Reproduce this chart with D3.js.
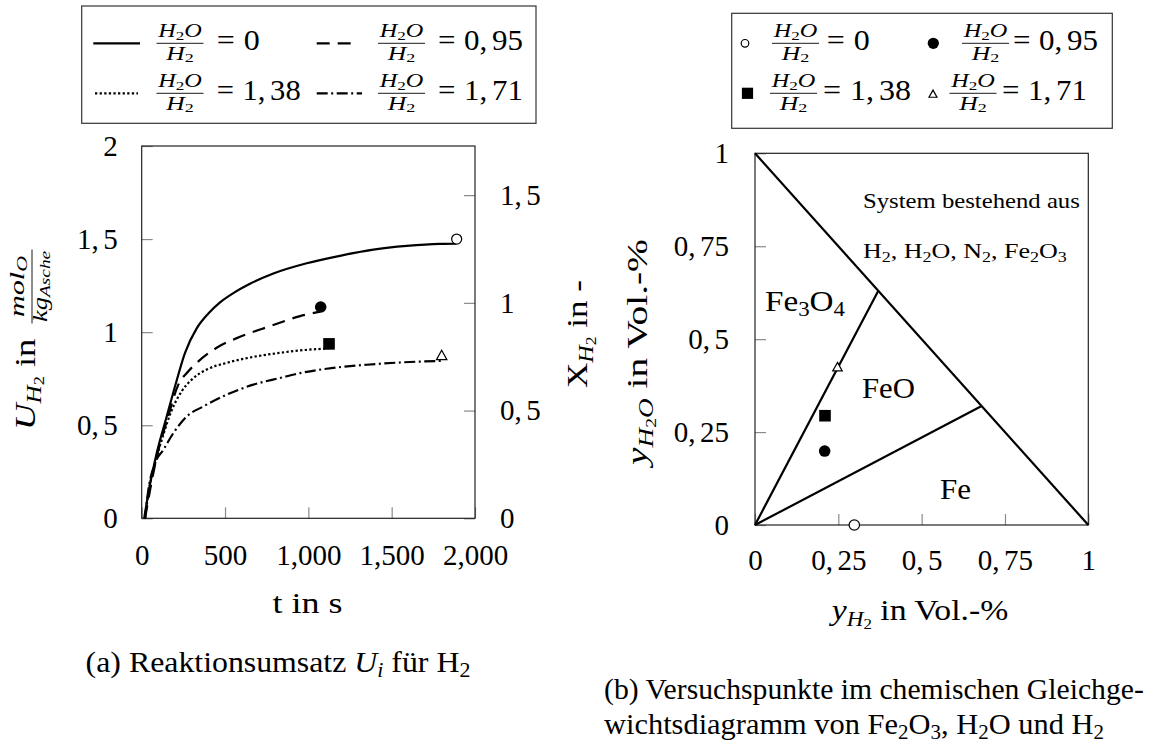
<!DOCTYPE html>
<html><head><meta charset="utf-8">
<script src="https://cdn.jsdelivr.net/npm/d3@7"></script>
<style>
body{margin:0;background:#fff}
text{font-family:"Liberation Serif","DejaVu Serif",serif;fill:#000}
</style>
</head><body>
<svg id="c" width="1169" height="744"></svg>
<script>
// ---------------- data: (a) Reaktionsumsatz ----------------
const ratioLabels = ["0", "0,95", "1,38", "1,71"];
const tSolid  = [15, 40, 90, 150, 200, 260, 330, 400, 470, 550, 650, 790, 990, 1190, 1390, 1590, 1790, 1886];
const uSolid  = [0, 0.135, 0.35, 0.547, 0.709, 0.889, 1.02, 1.10, 1.16, 1.21, 1.26, 1.315, 1.37, 1.41, 1.443, 1.463, 1.474, 1.475];
const tDashed = [20, 50, 90, 150, 220, 280, 340, 450, 590, 770, 950, 1070];
const uDashed = [0, 0.15, 0.33, 0.52, 0.718, 0.79, 0.843, 0.916, 0.975, 1.032, 1.086, 1.11];
const tDotted = [20, 45, 85, 130, 180, 240, 300, 390, 510, 670, 830, 990, 1120];
const uDotted = [0, 0.16, 0.31, 0.45, 0.58, 0.682, 0.745, 0.799, 0.835, 0.867, 0.889, 0.905, 0.912];
const tDashDot = [20, 40, 80, 130, 190, 270, 370, 510, 670, 830, 950, 1150, 1350, 1550, 1800];
const uDashDot = [0, 0.152, 0.296, 0.368, 0.458, 0.547, 0.601, 0.664, 0.718, 0.754, 0.78, 0.808, 0.825, 0.837, 0.846];
const markerT = [1890, 1074, 1124, 1800];
const markerU = [1.50, 1.135, 0.937, 0.873];
const xTicksA = [0, 500, 1000, 1500, 2000];
const xTickLabelsA = ["0", "500", "1,000", "1,500", "2,000"];
const yTicksA = [0, 0.5, 1, 1.5, 2];
const yTickLabelsA = ["0", "0,5", "1", "1,5", "2"];
const y2TicksA = [0, 0.5, 1, 1.5];
const y2TickLabelsA = ["0", "0,5", "1", "1,5"];
const y2Max = 1.728;

// ---------------- data: (b) Gleichgewichtsdiagramm ----------------
const lineDiagonal = [[0, 1], [1, 0]];
const lineFe3O4FeO = [[0, 0], [0.37, 0.63]];
const lineFeOFe    = [[0, 0], [0.68, 0.32]];
const pointYH2  = [0.298, 0.209, 0.21, 0.2475];
const pointYH2O = [0, 0.199, 0.294, 0.424];
const ticksB = [0, 0.25, 0.5, 0.75, 1];
const tickLabelsB = ["0", "0,25", "0,5", "0,75", "1"];

const markerTypes = ["open", "disc", "square", "triangle"];

// ---------------- helpers ----------------
const svg = d3.select("#c");
const FS = 29, FS2 = 20, FS3 = 14.5;

// text placed at (x,y) via transform so it can be stretched horizontally to a target width
function ptext(g, x, y, anchor) {
  return g.append("text").attr("transform", `translate(${x},${y})`).attr("text-anchor", anchor || "start")
    .attr("data-x", x).attr("data-y", y);
}
function fit(t, target) {
  const w = t.node().getBBox().width;
  const sx = target / w;
  t.attr("transform", `translate(${t.attr("data-x")},${t.attr("data-y")}) scale(${sx},1)`);
  return t;
}
function rich(sel, parts) {
  // parts: [text, size, italic, offset, dx]
  let cur = 0;
  parts.forEach(p => {
    const [t, size, it, off, dx] = p;
    const ts = sel.append("tspan")
      .attr("dy", (off || 0) - cur)
      .attr("font-size", size)
      .style("font-style", it ? "italic" : "normal")
      .text(t);
    if (dx) ts.attr("dx", dx);
    cur = off || 0;
  });
  return sel;
}
function mathNum(sel, str, size) {
  sel.text(null);
  const k = str.indexOf(",");
  if (k < 0) { sel.append("tspan").attr("font-size", size).text(str); return; }
  sel.append("tspan").attr("font-size", size).text(str.slice(0, k + 1));
  sel.append("tspan").attr("font-size", size).attr("dx", 4.5).text(str.slice(k + 1));
}
// fraction: numerator and denominator as separate stretched texts plus a bar
function frac(g, cx, barY, num, den, o) {
  const n = fit(rich(ptext(g, cx, barY + o.nOff, "middle"), num), o.nW);
  const d = fit(rich(ptext(g, cx, barY + o.dOff, "middle"), den), o.dW);
  const w = Math.max(o.nW, o.dW) + 2;
  g.append("line").attr("x1", cx - w / 2).attr("x2", cx + w / 2).attr("y1", barY).attr("y2", barY)
    .attr("stroke", "#000").attr("stroke-width", 0.9);
}
const LF = 18.5, LF2 = 13;
const numH2O = [["H", LF, true, 0], ["2", LF2, false, 2.5], ["O", LF, true, 0]];
const denH2 = [["H", LF, true, 0], ["2", LF2, false, 2.5]];
const legFrac = {nOff: -6, dOff: 16.5, nW: 45, dW: 29};

function drawMarker(g, type, x, y, s) {
  if (type === "open") {
    g.append("circle").attr("cx", x).attr("cy", y).attr("r", s).attr("fill", "#fff").attr("stroke", "#000").attr("stroke-width", 1.2);
  } else if (type === "disc") {
    g.append("circle").attr("cx", x).attr("cy", y).attr("r", s).attr("fill", "#000");
  } else if (type === "square") {
    g.append("rect").attr("x", x - s).attr("y", y - s).attr("width", 2 * s).attr("height", 2 * s).attr("fill", "#000");
  } else {
    const h = s;
    g.append("path").attr("d", `M${x},${y - h}L${x + h * 0.95},${y + h * 0.7}L${x - h * 0.95},${y + h * 0.7}Z`)
      .attr("fill", "#fff").attr("stroke", "#000").attr("stroke-width", 1.2);
  }
}
const tickColor = "#8a8a8a";
function styleAxis(g, labels, math) {
  g.select(".domain").remove();
  g.selectAll(".tick line").attr("stroke", tickColor).attr("stroke-width", 1.2);
  g.selectAll(".tick text").attr("font-size", FS).attr("fill", "#000")
    .each(function(d, i) {
      const s = d3.select(this);
      if (math) mathNum(s, labels[i], FS); else s.text(labels[i]);
    });
}
function eqLabel(g, x, y, str, target) {
  const t = ptext(g, x, y, "start");
  t.append("tspan").attr("font-size", FS).text("=");
  const k = str.indexOf(",");
  if (k < 0) t.append("tspan").attr("font-size", FS).attr("dx", 8).text(str);
  else {
    t.append("tspan").attr("font-size", FS).attr("dx", 8).text(str.slice(0, k + 1));
    t.append("tspan").attr("font-size", FS).attr("dx", 4.5).text(str.slice(k + 1));
  }
  fit(t, target);
}

// ================= (a) =================
const ax = d3.scaleLinear().domain([0, 2000]).range([141.7, 475]);
const ay = d3.scaleLinear().domain([0, 2]).range([518.3, 146]);
const ay2 = d3.scaleLinear().domain([0, y2Max]).range([518.3, 146]);
const gA = svg.append("g");

gA.append("g").attr("transform", "translate(0,518.3)")
  .call(d3.axisBottom(ax).tickValues(xTicksA).tickSizeInner(-11).tickSizeOuter(0).tickPadding(26))
  .call(styleAxis, xTickLabelsA, false);
gA.append("g").attr("transform", "translate(141.7,0)")
  .call(d3.axisLeft(ay).tickValues(yTicksA).tickSizeInner(-11).tickSizeOuter(0).tickPadding(24))
  .call(styleAxis, yTickLabelsA, true);
gA.append("g").attr("transform", "translate(475,0)")
  .call(d3.axisRight(ay2).tickValues(y2TicksA).tickSizeInner(-11).tickSizeOuter(0).tickPadding(25))
  .call(styleAxis, y2TickLabelsA, true);

gA.append("rect").attr("x", 141.7).attr("y", 146).attr("width", 475 - 141.7).attr("height", 518.3 - 146)
  .attr("fill", "none").attr("stroke", "#222").attr("stroke-width", 1.2);

const seriesA = [
  {t: tSolid, u: uSolid, dash: null},
  {t: tDashed, u: uDashed, dash: "13,8"},
  {t: tDotted, u: uDotted, dash: "2.3,2.3"},
  {t: tDashDot, u: uDashDot, dash: "11,3.5,2,3.5"}
];
const lineA = d3.line().x(d => ax(d[0])).y(d => ay(d[1])).curve(d3.curveMonotoneX);
seriesA.forEach(s => {
  gA.append("path").attr("d", lineA(s.t.map((t, i) => [t, s.u[i]])))
    .attr("fill", "none").attr("stroke", "#000").attr("stroke-width", 2.2)
    .attr("stroke-dasharray", s.dash);
});
const mSizeA = [5, 5.8, 5.8, 5.5];
markerT.forEach((t, i) => drawMarker(gA, markerTypes[i], ax(t), ay(markerU[i]), mSizeA[i]));

// axis labels (a)
fit(ptext(gA, 307.5, 613, "middle").attr("font-size", FS).text("t in s"), 70);

const yl = gA.append("g").attr("transform", "translate(35,338.5) rotate(-90)");
fit(rich(ptext(yl, -91.5, 0, "start"),
  [["U", FS, true, 0], ["H", FS2, true, 6], ["2", FS3, false, 9], [" in", FS, false, 0]]), 92);
frac(yl, 52, -3,
  [["mol", 20, true, 0], ["O", 14.5, true, 3]],
  [["kg", 20, true, 0], ["Asche", 14.5, true, 3]],
  {nOff: -8, dOff: 15, nW: 62, dW: 72});

const yl2 = gA.append("g").attr("transform", "translate(587,334) rotate(-90)");
fit(rich(ptext(yl2, 0, 0, "middle"),
  [["X", FS, false, 0], ["H", FS2, true, 6], ["2", FS3, false, 9], [" in -", FS, false, 0]]), 108);

// legend (a)
const legA = svg.append("g");
legA.append("rect").attr("x", 81.7).attr("y", 6).attr("width", 536 - 81.7).attr("height", 123.3 - 6)
  .attr("fill", "#fff").attr("stroke", "#333").attr("stroke-width", 1.2);
const legAPos = [
  {lx1: 93.3, lx2: 140, fx: 180, ex: 216.7, row: 0, w: 43},
  {lx1: 316.7, lx2: 357, fx: 401.5, ex: 438, row: 0, w: 85},
  {lx1: 95, lx2: 138, fx: 180, ex: 216.7, row: 1, w: 84},
  {lx1: 316.7, lx2: 362, fx: 401.5, ex: 438, row: 1, w: 85}
];
const rowBar = [43.3, 93.3];
seriesA.forEach((s, i) => {
  const p = legAPos[i], by = rowBar[p.row];
  legA.append("line").attr("x1", p.lx1).attr("x2", p.lx2).attr("y1", by).attr("y2", by)
    .attr("stroke", "#000").attr("stroke-width", 2.2).attr("stroke-dasharray", s.dash);
  frac(legA, p.fx, by, numH2O, denH2, legFrac);
  eqLabel(legA, p.ex, by + 6.7, ratioLabels[i], p.w);
});

// caption (a)
fit(rich(ptext(svg, 278, 672, "middle"),
  [["(a) Reaktionsumsatz ", FS, false, 0], ["U", FS, true, 0], ["i", FS2, true, 5], [" für H", FS, false, 0], ["2", FS2, false, 5]]), 385);

// ================= (b) =================
const bx = d3.scaleLinear().domain([0, 1]).range([755, 1088.3]);
const by = d3.scaleLinear().domain([0, 1]).range([525, 153.3]);
const gB = svg.append("g");
gB.append("g").attr("transform", "translate(0,525)")
  .call(d3.axisBottom(bx).tickValues(ticksB).tickSizeInner(-11).tickSizeOuter(0).tickPadding(24.5))
  .call(styleAxis, tickLabelsB, true);
gB.append("g").attr("transform", "translate(755,0)")
  .call(d3.axisLeft(by).tickValues(ticksB).tickSizeInner(-11).tickSizeOuter(0).tickPadding(26))
  .call(styleAxis, tickLabelsB, true);
gB.append("rect").attr("x", 755).attr("y", 153.3).attr("width", 1088.3 - 755).attr("height", 525 - 153.3)
  .attr("fill", "none").attr("stroke", "#222").attr("stroke-width", 1.2);

const lineB = d3.line().x(d => bx(d[0])).y(d => by(d[1]));
[lineDiagonal, lineFe3O4FeO, lineFeOFe].forEach(l => {
  gB.append("path").attr("d", lineB(l)).attr("fill", "none").attr("stroke", "#000").attr("stroke-width", 2.2);
});
const mSizeB = [5.2, 5.8, 5.8, 5];
pointYH2.forEach((x, i) => drawMarker(gB, markerTypes[i], bx(x), by(pointYH2O[i]), mSizeB[i]));

// region labels
const FSs = 21, FSs2 = 14.5;
fit(ptext(gB, 863, 208, "start").attr("font-size", FSs).text("System bestehend aus"), 217);
fit(rich(ptext(gB, 863, 258, "start"),
  [["H", FSs, false, 0], ["2", FSs2, false, 4], [", H", FSs, false, 0], ["2", FSs2, false, 4], ["O, N", FSs, false, 0],
   ["2", FSs2, false, 4], [", Fe", FSs, false, 0], ["2", FSs2, false, 4], ["O", FSs, false, 0], ["3", FSs2, false, 4]]), 204);
fit(rich(ptext(gB, 765, 311, "start"),
  [["Fe", FS, false, 0], ["3", FS2, false, 5], ["O", FS, false, 0], ["4", FS2, false, 5]]), 80);
fit(ptext(gB, 862, 398, "start").attr("font-size", FS).text("FeO"), 53);
fit(ptext(gB, 940, 499, "start").attr("font-size", FS).text("Fe"), 31);

// axis labels (b)
fit(rich(ptext(gB, 920, 620, "middle"),
  [["y", FS, true, 0], ["H", FS2, true, 6], ["2", FS3, false, 9], [" in Vol.-%", FS, false, 0]]), 180);
const yl3 = gB.append("g").attr("transform", "translate(647,352) rotate(-90)");
fit(rich(ptext(yl3, 0, 0, "middle"),
  [["y", FS, true, 0], ["H", FS2, true, 6], ["2", FS3, false, 9], ["O", FS2, true, 6], [" in Vol.-%", FS, false, 0]]), 230);

// legend (b)
const legB = svg.append("g");
legB.append("rect").attr("x", 731.7).attr("y", 13.3).attr("width", 1112.3 - 731.7).attr("height", 128.3 - 13.3)
  .attr("fill", "#fff").attr("stroke", "#333").attr("stroke-width", 1.2);
const legBPos = [
  {mx: 745, fx: 795.5, ex: 826.7, row: 0, s: 3.8, w: 43},
  {mx: 933.3, fx: 985.5, ex: 1013, row: 0, s: 5.6, w: 85},
  {mx: 747.5, fx: 793.5, ex: 823, row: 1, s: 5.6, w: 88},
  {mx: 933, fx: 973, ex: 1002, row: 1, s: 4.2, w: 85}
];
markerTypes.forEach((m, i) => {
  const p = legBPos[i], y0 = rowBar[p.row];
  drawMarker(legB, m, p.mx, y0 + (m === "triangle" ? 1 : 0), p.s);
  frac(legB, p.fx, y0, numH2O, denH2, legFrac);
  eqLabel(legB, p.ex, y0 + 6.7, ratioLabels[i], p.w);
});

// caption (b)
fit(ptext(svg, 604, 699, "start").attr("font-size", FS).text("(b) Versuchspunkte im chemischen Gleichge-"), 540);
fit(rich(ptext(svg, 604, 734, "start"),
  [["wichtsdiagramm von Fe", FS, false, 0], ["2", FS2, false, 5], ["O", FS, false, 0], ["3", FS2, false, 5],
   [", H", FS, false, 0], ["2", FS2, false, 5], ["O und H", FS, false, 0], ["2", FS2, false, 5]]), 500);
</script>
</body></html>
